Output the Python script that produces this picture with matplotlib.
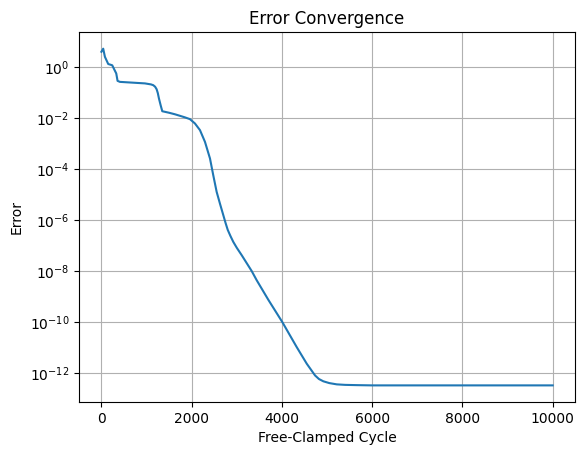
import numpy as np
import matplotlib.pyplot as plt

# values (cycle, log10 of error)
cycle = [0, 40, 78, 151, 240, 284, 329, 358, 410, 595, 965, 1100, 1149,
         1190, 1224, 1250, 1275, 1312, 1349, 1500, 1630, 1741, 1850, 1962,
         2073, 2184, 2295, 2406, 2479, 2554, 2627, 2701, 2750, 2800, 2860,
         2923, 3000, 3109, 3330, 3441, 3700, 4009, 4328, 4550, 4650, 4734,
         4820, 4918, 5050, 5215, 5400, 5659, 6000, 8000, 10000]
log_err = [0.6, 0.72, 0.40, 0.12, 0.07, -0.09, -0.25, -0.54, -0.58, -0.60,
           -0.64, -0.68, -0.71, -0.77, -0.87, -1.02, -1.23, -1.49, -1.73,
           -1.79, -1.85, -1.91, -1.97, -2.04, -2.21, -2.47, -2.93, -3.58,
           -4.24, -4.89, -5.35, -5.80, -6.10, -6.38, -6.62, -6.85, -7.08,
           -7.37, -7.99, -8.35, -9.12, -9.99, -10.97, -11.62, -11.87,
           -12.08, -12.22, -12.31, -12.38, -12.43, -12.45, -12.46, -12.47,
           -12.47, -12.47]
error = 10.0 ** np.array(log_err)

fig, ax = plt.subplots(figsize=(5.84, 4.55), dpi=100)
fig.subplots_adjust(left=0.135, right=0.985, top=0.93, bottom=0.116)

ax.plot(cycle, error)
ax.set_yscale("log")
ax.set_title("Error Convergence")
ax.set_xlabel("Free-Clamped Cycle")
ax.set_ylabel("Error")
ax.grid(True)

fig.savefig("out.png", dpi=100)
